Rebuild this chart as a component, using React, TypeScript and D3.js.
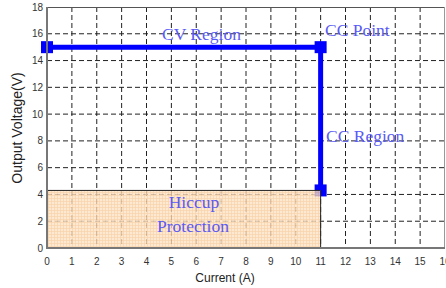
import React from "react";
import * as d3 from "d3";

// V-I curve of the supply
const currentA = [0, 11, 11];
const voltageV = [15, 15, 4.3];

// hiccup protection box (below this voltage)
const hiccupCurrent = 11;
const hiccupVoltage = 4.3;

const xTicks = d3.range(0, 17, 1);
const yTicks = d3.range(0, 19, 2);

const labels = [
  { text: "CV Region", x: 162, y: 40, anchor: "start" },
  { text: "CC Point", x: 325, y: 36, anchor: "start" },
  { text: "CC Region", x: 326, y: 142, anchor: "start" },
  { text: "Hiccup", x: 194, y: 208, anchor: "middle" },
  { text: "Protection", x: 193, y: 232, anchor: "middle" },
];

const W = 446;
const H = 288;
const left = 47;
const right = 445;
const top = 7;
const bottom = 248;

export default function App() {
  const x = d3.scaleLinear().domain([0, 16]).range([left, right]);
  const y = d3.scaleLinear().domain([0, 18]).range([bottom, top]);

  const line = d3
    .line<number>()
    .x((d, i) => x(currentA[i]))
    .y((d) => y(d));

  const hx = x(hiccupCurrent);
  const hy = y(hiccupVoltage);

  return (
    <svg
      width={W}
      height={H}
      style={{ position: "absolute", left: 0, top: 0, background: "#fff" }}
    >
      <defs>
        <pattern id="fine" width={3} height={3} patternUnits="userSpaceOnUse">
          <rect width={3} height={3} fill="#fde2c6" />
          <path d="M0,0.5H3M0.5,0V3" stroke="#f8c795" strokeWidth={0.7} />
        </pattern>
      </defs>

      {/* grid */}
      <g stroke="#222" strokeWidth={1} strokeDasharray="5,3">
        {xTicks.slice(1, -1).map((t) => (
          <line key={"gx" + t} x1={x(t)} x2={x(t)} y1={top} y2={bottom} />
        ))}
        {yTicks.slice(1, -1).map((t) => (
          <line key={"gy" + t} x1={left} x2={right} y1={y(t)} y2={y(t)} />
        ))}
      </g>

      {/* curve */}
      <path d={line(voltageV) || ""} fill="none" stroke="#0000ff" strokeWidth={5} />
      {voltageV.map((v, i) => (
        <rect
          key={"m" + i}
          x={x(currentA[i]) - 6}
          y={y(v) - 6}
          width={12}
          height={12}
          fill="#0000ff"
        />
      ))}

      {/* hiccup area */}
      <rect
        x={left}
        y={hy}
        width={hx - left}
        height={bottom - hy}
        fill="url(#fine)"
        opacity={0.8}
      />
      <path d={`M${left},${hy}H${hx}V${bottom}`} fill="none" stroke="#222" strokeWidth={1} />

      {/* frame */}
      <line x1={left} x2={right} y1={top + 0.5} y2={top + 0.5} stroke="#555" strokeWidth={1} />
      <line x1={right - 0.5} x2={right - 0.5} y1={top} y2={bottom} stroke="#999" strokeWidth={1} />
      <line x1={left} x2={left} y1={top} y2={bottom + 1} stroke="#777" strokeWidth={2} />
      <line x1={left - 1} x2={right} y1={bottom} y2={bottom} stroke="#777" strokeWidth={2} />

      {/* tick labels */}
      <g fontFamily="Liberation Sans, Arial, sans-serif" fontSize={10} fill="#333">
        {xTicks.map((t) => (
          <text key={"tx" + t} x={x(t)} y={265} textAnchor="middle">
            {t}
          </text>
        ))}
        {yTicks.map((t) => (
          <text key={"ty" + t} x={43} y={y(t) + 3.5} textAnchor="end">
            {t}
          </text>
        ))}
      </g>

      {/* axis titles */}
      <text
        x={225}
        y={282}
        textAnchor="middle"
        fontFamily="Liberation Sans, Arial, sans-serif"
        fontSize={12}
        fill="#222"
      >
        Current (A)
      </text>
      <text
        transform={`translate(22,128) rotate(-90)`}
        textAnchor="middle"
        fontFamily="Liberation Sans, Arial, sans-serif"
        fontSize={14}
        fill="#222"
      >
        Output Voltage(V)
      </text>

      {/* annotations */}
      <g fontFamily="Liberation Serif, Times New Roman, serif" fontSize={17.5} fill="#5a5af4">
        {labels.map((l) => (
          <text key={l.text} x={l.x} y={l.y} textAnchor={l.anchor as any}>
            {l.text}
          </text>
        ))}
      </g>
    </svg>
  );
}
